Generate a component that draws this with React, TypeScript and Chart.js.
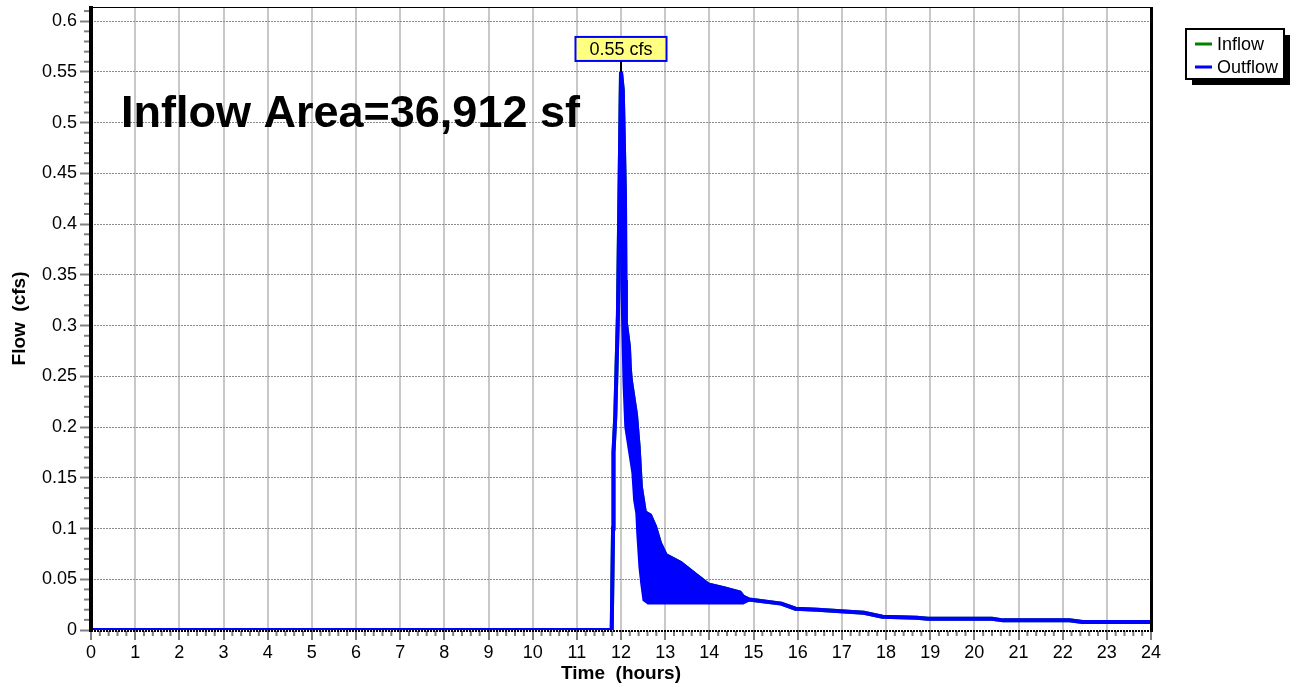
import React, { useEffect, useRef } from "react";
import { Chart, registerables } from "chart.js";

Chart.register(...registerables);

// ---- data (hours, cfs) ----
const outflowTime = [
  0, 11.79, 11.82, 11.83, 11.87, 11.93, 12.0, 12.04, 12.09, 12.1, 12.11, 12.18, 12.2, 12.22,
  12.34, 12.4, 12.45, 12.54, 12.66, 12.77, 12.88, 13.01, 13.35, 13.67, 13.97, 14.35, 14.69,
  14.76, 14.9, 15.63, 15.95, 16.45, 16.8, 17.5, 17.92, 18.7, 18.95, 20.4, 20.65, 22.15, 22.45, 24,
];
const outflowFlow = [
  0, 0, 0.1, 0.175, 0.21, 0.31, 0.55, 0.532, 0.427, 0.345, 0.303, 0.279, 0.258, 0.247,
  0.212, 0.18, 0.141, 0.116, 0.113, 0.102, 0.086, 0.074, 0.066, 0.055, 0.045, 0.041, 0.037,
  0.033, 0.03, 0.026, 0.021, 0.02, 0.019, 0.017, 0.013, 0.012, 0.011, 0.011, 0.0095, 0.0095, 0.0078, 0.0078,
];
// lower edge of the oscillating outflow band
const outflowLowTime = [12.0, 12.03, 12.08, 12.12, 12.28, 12.32, 12.37, 12.39, 12.44, 12.48, 12.53, 12.62, 14.76, 14.9];
const outflowLowFlow = [0.55, 0.34, 0.243, 0.2, 0.155, 0.128, 0.115, 0.096, 0.062, 0.046, 0.03, 0.027, 0.027, 0.03];
// inflow hydrograph (hidden beneath the outflow)
const inflowTime = outflowTime;
const inflowFlow = outflowFlow;

const seriesNames = ["Inflow", "Outflow"];
const seriesColors = ["#008000", "#0000ff"];
const xMin = 0;
const xMax = 24;
const xStep = 1;
const yMin = 0;
const yMax = 0.614;
const yStep = 0.05;
const areaLabel = "Inflow Area=36,912 sf";
const peakUnit = "cfs";
const xTitle = "Time  (hours)";
const yTitle = "Flow  (cfs)";

const FONT = "'Liberation Sans', Arial, Helvetica, sans-serif";

const toXY = (t: number[], v: number[]) => t.map((x, i) => ({ x, y: v[i] }));

const decorPlugin = {
  id: "decor",
  afterDraw(chart: any) {
    const { ctx, chartArea: a, scales } = chart;
    const xs = scales.x;
    const ys = scales.y;
    ctx.save();
    // minor ticks
    ctx.strokeStyle = "#808080";
    ctx.lineWidth = 2;
    for (let i = 0; i <= Math.floor(yMax * 100); i++) {
      if (i % 5 === 0) continue;
      const py = ys.getPixelForValue(i / 100);
      ctx.beginPath();
      ctx.moveTo(a.left - 7, py);
      ctx.lineTo(a.left - 1, py);
      ctx.stroke();
    }
    for (let i = 0; i <= xMax * 5; i++) {
      if (i % 5 === 0) continue;
      const px = xs.getPixelForValue(i / 5);
      ctx.beginPath();
      ctx.moveTo(px, a.bottom + 1);
      ctx.lineTo(px, a.bottom + 6);
      ctx.stroke();
    }
    // frame
    ctx.strokeStyle = "#000";
    ctx.lineWidth = 1;
    ctx.beginPath();
    ctx.moveTo(a.left, a.top + 0.5);
    ctx.lineTo(a.right, a.top + 0.5);
    ctx.stroke();
    ctx.lineWidth = 3;
    ctx.beginPath();
    ctx.moveTo(a.right + 0.5, a.top);
    ctx.lineTo(a.right + 0.5, a.bottom + 2);
    ctx.stroke();
    ctx.lineWidth = 2;
    ctx.setLineDash([2, 1]);
    ctx.beginPath();
    ctx.moveTo(a.left, a.bottom + 1);
    ctx.lineTo(a.right, a.bottom + 1);
    ctx.stroke();
    ctx.setLineDash([]);
    ctx.lineWidth = 4;
    ctx.beginPath();
    ctx.moveTo(a.left, a.top - 1);
    ctx.lineTo(a.left, a.bottom + 2);
    ctx.stroke();

    // area label
    ctx.fillStyle = "#000";
    ctx.font = `bold 45px ${FONT}`;
    ctx.textAlign = "left";
    ctx.textBaseline = "alphabetic";
    ctx.fillText(areaLabel, a.left + 30, a.top + 120);

    // peak label
    let pi = 0;
    outflowFlow.forEach((v, i) => {
      if (v > outflowFlow[pi]) pi = i;
    });
    const px = xs.getPixelForValue(outflowTime[pi]);
    const py = ys.getPixelForValue(outflowFlow[pi]);
    const txt = `${outflowFlow[pi].toFixed(2)} ${peakUnit}`;
    ctx.font = `18px ${FONT}`;
    const tw = ctx.measureText(txt).width;
    const bw = tw + 28;
    const bh = 24;
    const by = py - 11 - bh;
    ctx.strokeStyle = "#000";
    ctx.lineWidth = 2;
    ctx.beginPath();
    ctx.moveTo(px, by + bh);
    ctx.lineTo(px, py);
    ctx.stroke();
    ctx.fillStyle = "#ffff80";
    ctx.fillRect(px - bw / 2, by, bw, bh);
    ctx.strokeStyle = "#0000ff";
    ctx.strokeRect(px - bw / 2, by, bw, bh);
    ctx.fillStyle = "#000";
    ctx.textAlign = "center";
    ctx.textBaseline = "middle";
    ctx.fillText(txt, px, by + bh / 2 + 1);

    // legend
    const lx = a.right + 35;
    const ly = 29;
    const lw = 98;
    const lh = 50;
    ctx.fillStyle = "#000";
    ctx.fillRect(lx + 6, ly + 6, lw, lh);
    ctx.fillStyle = "#fff";
    ctx.fillRect(lx, ly, lw, lh);
    ctx.strokeStyle = "#000";
    ctx.lineWidth = 2;
    ctx.strokeRect(lx, ly, lw, lh);
    ctx.font = `18px ${FONT}`;
    ctx.textAlign = "left";
    ctx.textBaseline = "middle";
    seriesNames.forEach((name, i) => {
      const yy = ly + 15 + i * 23;
      ctx.strokeStyle = seriesColors[i];
      ctx.lineWidth = 3;
      ctx.beginPath();
      ctx.moveTo(lx + 9, yy);
      ctx.lineTo(lx + 26, yy);
      ctx.stroke();
      ctx.fillStyle = "#000";
      ctx.fillText(name, lx + 31, yy + 1);
    });
    ctx.restore();
  },
};

export default function App() {
  const ref = useRef<HTMLCanvasElement | null>(null);
  useEffect(() => {
    if (!ref.current) return;
    const clip = { left: 0, top: 10, right: 0, bottom: 0 };
    const chart = new Chart(ref.current, {
      type: "line",
      data: {
        datasets: [
          {
            label: seriesNames[0],
            data: toXY(inflowTime, inflowFlow),
            borderColor: seriesColors[0],
            borderWidth: 4,
            pointRadius: 0,
            fill: false,
            order: 3,
            clip,
          },
          {
            label: seriesNames[1],
            data: toXY(outflowTime, outflowFlow),
            borderColor: seriesColors[1],
            borderWidth: 4,
            pointRadius: 0,
            fill: false,
            order: 1,
            clip,
          },
          {
            label: "Outflow low",
            data: toXY(outflowLowTime, outflowLowFlow),
            borderColor: seriesColors[1],
            backgroundColor: seriesColors[1],
            borderWidth: 4,
            pointRadius: 0,
            fill: 1,
            order: 2,
            clip,
          },
        ],
      },
      options: {
        animation: false,
        responsive: true,
        maintainAspectRatio: false,
        parsing: false as any,
        layout: { padding: { left: 0, top: 7, right: 143, bottom: 0 } },
        plugins: { legend: { display: false }, tooltip: { enabled: false } },
        scales: {
          x: {
            type: "linear",
            min: xMin,
            max: xMax,
            afterFit: (s: any) => {
              s.height = 56;
              s.paddingLeft = 0;
              s.paddingRight = 0;
            },
            ticks: {
              stepSize: xStep,
              color: "#000",
              font: { family: FONT, size: 18 },
              padding: 2,
              maxRotation: 0,
              autoSkip: false,
            },
            grid: {
              color: "#c8c8c8",
              lineWidth: 2,
              tickColor: "#808080",
              tickLength: 10,
              tickWidth: 2,
            },
            border: { display: false, dash: [] },
            title: {
              display: true,
              text: xTitle,
              color: "#000",
              font: { family: FONT, size: 19, weight: "bold" },
              padding: { top: 0, bottom: 1 },
            },
          },
          y: {
            type: "linear",
            min: yMin,
            max: yMax,
            afterFit: (s: any) => {
              s.width = 91;
              s.paddingTop = 0;
              s.paddingBottom = 0;
            },
            ticks: {
              stepSize: yStep,
              includeBounds: false,
              color: "#000",
              font: { family: FONT, size: 18 },
              padding: 3,
              callback: (v: any) => String(+Number(v).toFixed(2)),
            },
            grid: {
              color: "#8a8a8a",
              lineWidth: 1,
              tickColor: "#808080",
              tickLength: 11,
              tickWidth: 2,
              tickBorderDash: [],
            } as any,
            border: { display: false, dash: [2, 1] },
            title: {
              display: true,
              text: yTitle,
              color: "#000",
              font: { family: FONT, size: 19, weight: "bold" },
              padding: { top: 8, bottom: 0 },
            },
          },
        },
      },
      plugins: [decorPlugin],
    });
    return () => chart.destroy();
  }, []);
  return (
    <div style={{ position: "fixed", left: 0, top: 0, width: 1294, height: 686, background: "#fff" }}>
      <canvas ref={ref} />
    </div>
  );
}
